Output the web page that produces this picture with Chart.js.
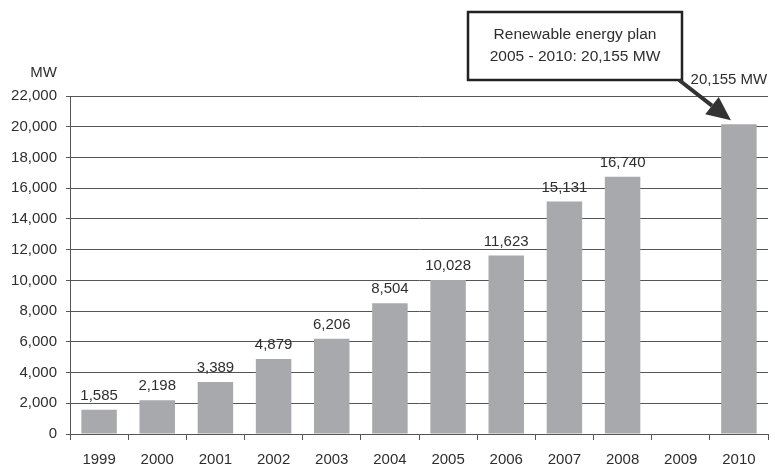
<!DOCTYPE html>
<html>
<head>
<meta charset="utf-8">
<script src="https://cdn.jsdelivr.net/npm/chart.js@4.4.0/dist/chart.umd.min.js"></script>
<style>
  body { margin: 0; background: #fff; }
  #wrap { width: 775px; height: 469px; }
</style>
</head>
<body>
<div id="wrap"><canvas id="myChart"></canvas></div>
<script>
// Chart data
const years = ['1999', '2000', '2001', '2002', '2003', '2004', '2005', '2006', '2007', '2008', '2009', '2010'];
const capacity = [1585, 2198, 3389, 4879, 6206, 8504, 10028, 11623, 15131, 16740, null, 20155];
const valueLabels = ['1,585', '2,198', '3,389', '4,879', '6,206', '8,504', '10,028', '11,623', '15,131', '16,740', '', '20,155 MW'];
const yTicks = [0, 2000, 4000, 6000, 8000, 10000, 12000, 14000, 16000, 18000, 20000, 22000];
const planText = ['Renewable energy plan', '2005 - 2010: 20,155 MW'];

const FONT = '"Liberation Sans", Arial, sans-serif';
const textColor = '#2e2e2e';

// Labels above bars, MW unit, plan box with arrow
const extras = {
    id: 'extras',
    afterDatasetsDraw(chart) {
        const ctx = chart.ctx;
        const meta = chart.getDatasetMeta(0);
        ctx.save();
        ctx.fillStyle = textColor;
        ctx.font = '15px ' + FONT;
        ctx.textAlign = 'center';
        ctx.textBaseline = 'middle';
        meta.data.forEach((bar, i) => {
            if (capacity[i] == null) return;
            let x = bar.x, y = bar.y - 14;
            if (i === years.length - 1) { x = bar.x - 10; y = bar.y - 44; }
            ctx.fillText(valueLabels[i], x, y);
        });

        // unit label
        ctx.textAlign = 'right';
        ctx.fillText('MW', 57, chart.chartArea.top - 23);

        // plan box
        const last = meta.data[years.length - 1];
        const bx = 468, by = 12, bw = 214, bh = 68;
        ctx.fillStyle = '#fff';
        ctx.fillRect(bx, by, bw, bh);
        ctx.strokeStyle = '#222';
        ctx.lineWidth = 2.5;
        ctx.strokeRect(bx, by, bw, bh);
        ctx.fillStyle = textColor;
        ctx.font = '15.5px ' + FONT;
        ctx.textAlign = 'center';
        ctx.fillText(planText[0], bx + bw / 2, by + 23);
        ctx.fillText(planText[1], bx + bw / 2, by + 45);

        // arrow to the 2010 bar
        const sx = bx + bw - 3, sy = by + bh;
        const tx = last.x - 8, ty = last.y - 4;
        const ang = Math.atan2(ty - sy, tx - sx);
        const headLen = 24, headW = 11;
        const hx = tx - headLen * Math.cos(ang), hy = ty - headLen * Math.sin(ang);
        ctx.strokeStyle = '#333';
        ctx.lineWidth = 4;
        ctx.beginPath();
        ctx.moveTo(sx, sy);
        ctx.lineTo(hx, hy);
        ctx.stroke();
        ctx.fillStyle = '#333';
        ctx.beginPath();
        ctx.moveTo(tx, ty);
        ctx.lineTo(hx + headW * Math.sin(ang), hy - headW * Math.cos(ang));
        ctx.lineTo(hx - headW * Math.sin(ang), hy + headW * Math.cos(ang));
        ctx.closePath();
        ctx.fill();
        ctx.restore();
    }
};

const myChart = document.getElementById('myChart');

let barChart = new Chart(myChart, {
    type: 'bar',
    data: {
        labels: years,
        datasets: [{
            label: 'MW',
            data: capacity,
            backgroundColor: '#a7a9ac',
            borderWidth: 0,
            barPercentage: 0.61,
            categoryPercentage: 1
        }]
    },
    options: {
        responsive: true,
        maintainAspectRatio: false,
        animation: false,
        layout: {
            padding: { top: 96, right: 7, left: 0, bottom: 0 }
        },
        scales: {
            x: {
                afterFit(scale) {
                    scale.height = 35;
                },
                grid: {
                    offset: true,
                    drawOnChartArea: false,
                    drawTicks: true,
                    tickLength: 6,
                    color: '#555'
                },
                border: { color: '#555', width: 1 },
                ticks: {
                    color: textColor,
                    padding: 11,
                    font: { family: FONT, size: 15 }
                }
            },
            y: {
                min: 0,
                max: 22000,
                afterBuildTicks(scale) {
                    scale.ticks = yTicks.map(v => ({ value: v }));
                },
                afterFit(scale) {
                    scale.width = 70;
                },
                grid: {
                    color: '#555',
                    lineWidth: 1,
                    tickLength: 4
                },
                border: { color: '#555', width: 1 },
                ticks: {
                    color: textColor,
                    padding: 9,
                    font: { family: FONT, size: 15 },
                    callback: v => v.toLocaleString('en-US')
                }
            }
        },
        plugins: {
            legend: { display: false },
            tooltip: { enabled: false }
        }
    },
    plugins: [extras]
});
</script>
</body>
</html>
